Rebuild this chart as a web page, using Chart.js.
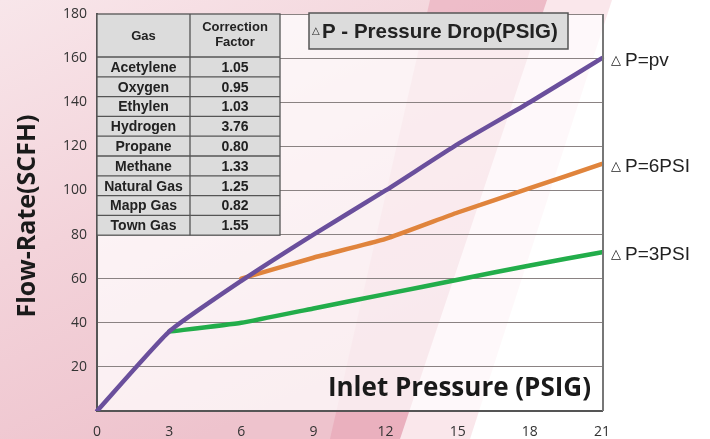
<!DOCTYPE html>
<html>
<head>
<meta charset="utf-8">
<script src="https://cdn.jsdelivr.net/npm/chart.js@4.4.0/dist/chart.umd.min.js"></script>
<style>
  html, body { margin: 0; padding: 0; background: #fff; }
  #wrap { width: 710px; height: 439px; }
</style>
</head>
<body>
<div id="wrap"><canvas id="flowChart" width="710" height="439"></canvas></div>
<script>
// Inlet pressure (PSIG) on the x axis
const pressure = ["0", "3", "6", "9", "12", "15", "18", "21"];

// Flow-rate (SCFH)
const flowPv = [0, 36, 59, 80, 100, 121, 140, 160];
const flow6psi = [null, null, 60, 69.5, 78, 90, 101, 112];
const flow3psi = [null, 36, 40, 46.5, 53, 59.5, 66, 72];

const seriesNames = ["P=pv", "P=6PSI", "P=3PSI"];

// Gas correction table
const gases = ["Acetylene", "Oxygen", "Ethylen", "Hydrogen", "Propane", "Methane", "Natural Gas", "Mapp Gas", "Town Gas"];
const factors = ["1.05", "0.95", "1.03", "3.76", "0.80", "1.33", "1.25", "0.82", "1.55"];

// Background, table, labels and titles
const decorPlugin = {
  id: "decor",
  beforeDraw(chart) {
    const ctx = chart.ctx;
    const a = chart.chartArea;
    ctx.save();
    ctx.fillStyle = "#ffffff";
    ctx.fillRect(0, 0, chart.width, chart.height);

    // pink left region
    const g = ctx.createLinearGradient(0, 0, 200, 439);
    g.addColorStop(0, "#f8e6ea");
    g.addColorStop(0.5, "#f3d3da");
    g.addColorStop(1, "#eec3cd");
    ctx.fillStyle = g;
    ctx.beginPath();
    ctx.moveTo(0, 0); ctx.lineTo(547, 0); ctx.lineTo(400, 439); ctx.lineTo(0, 439);
    ctx.closePath(); ctx.fill();

    // lighter band
    ctx.fillStyle = "rgba(240,185,198,0.35)";
    ctx.beginPath();
    ctx.moveTo(547, 0); ctx.lineTo(612, 0); ctx.lineTo(470, 439); ctx.lineTo(400, 439);
    ctx.closePath(); ctx.fill();

    // stronger band
    ctx.fillStyle = "rgba(225,140,162,0.35)";
    ctx.beginPath();
    ctx.moveTo(430, 0); ctx.lineTo(547, 0); ctx.lineTo(400, 439); ctx.lineTo(330, 439);
    ctx.closePath(); ctx.fill();

    // plot area wash
    ctx.fillStyle = "rgba(255,255,255,0.72)";
    ctx.fillRect(a.left, a.top, a.right - a.left, a.bottom - a.top);
    ctx.restore();
  },
  afterDatasetsDraw(chart) {
    const ctx = chart.ctx;
    const a = chart.chartArea;
    const yScale = chart.scales.y;
    ctx.save();

    // right border
    ctx.strokeStyle = "#777";
    ctx.lineWidth = 2;
    ctx.beginPath();
    ctx.moveTo(a.right + 1, a.top); ctx.lineTo(a.right + 1, a.bottom);
    ctx.stroke();

    // correction table
    const tx = 97, tc = 190, tr = 280, ty = 14, th = 57, rowH = 19.8;
    const tb = th + rowH * gases.length;
    ctx.fillStyle = "#dcdcdc";
    ctx.fillRect(tx, ty, tr - tx, tb - ty);
    ctx.strokeStyle = "#555";
    ctx.lineWidth = 1.3;
    ctx.strokeRect(tx, ty, tr - tx, tb - ty);
    ctx.beginPath();
    ctx.moveTo(tc, ty); ctx.lineTo(tc, tb);
    for (let i = 0; i < gases.length; i++) {
      const yy = th + rowH * i;
      ctx.moveTo(tx, yy); ctx.lineTo(tr, yy);
    }
    ctx.stroke();

    ctx.fillStyle = "#222";
    ctx.textAlign = "center";
    ctx.textBaseline = "middle";
    ctx.font = "bold 13px 'Liberation Sans', Arial, sans-serif";
    ctx.fillText("Gas", (tx + tc) / 2, (ty + th) / 2 + 1);
    ctx.fillText("Correction", (tc + tr) / 2, 27);
    ctx.fillText("Factor", (tc + tr) / 2, 42);
    ctx.font = "bold 14px 'Liberation Sans', Arial, sans-serif";
    gases.forEach((name, i) => {
      const yy = th + rowH * i + rowH / 2 + 1;
      ctx.fillText(name, (tx + tc) / 2, yy);
      ctx.fillText(factors[i], (tc + tr) / 2, yy);
    });

    // pressure drop title box
    ctx.fillStyle = "#dcdcdc";
    ctx.fillRect(309, 13, 259, 36);
    ctx.strokeStyle = "#555";
    ctx.lineWidth = 1.5;
    ctx.strokeRect(309, 13, 259, 36);
    ctx.fillStyle = "#222";
    ctx.textAlign = "left";
    ctx.textBaseline = "alphabetic";
    ctx.font = "10px 'DejaVu Sans', sans-serif";
    ctx.fillText("\u25B3", 312, 34);
    ctx.font = "bold 20.5px 'Liberation Sans', Arial, sans-serif";
    ctx.fillText("P - Pressure Drop(PSIG)", 322, 38);

    // series labels at line ends
    const ends = [flowPv, flow6psi, flow3psi];
    ends.forEach((arr, i) => {
      const yy = yScale.getPixelForValue(arr[arr.length - 1]);
      ctx.textBaseline = "alphabetic";
      ctx.font = "13px 'DejaVu Sans', sans-serif";
      ctx.fillText("\u25B3", 611, yy + 6);
      ctx.font = "19px 'Liberation Sans', Arial, sans-serif";
      ctx.fillText(seriesNames[i], 625, yy + 8);
    });

    // axis titles
    ctx.font = "bold 26px 'Open Sans', sans-serif";
    ctx.textAlign = "right";
    ctx.textBaseline = "middle";
    ctx.fillStyle = "#1a1a1a";
    ctx.fillText("Inlet Pressure (PSIG)", 591, 389);

    ctx.translate(28, 216);
    ctx.rotate(-Math.PI / 2);
    ctx.textAlign = "center";
    ctx.font = "bold 25px 'Open Sans', sans-serif";
    ctx.fillText("Flow-Rate(SCFH)", 0, 0);
    ctx.restore();
  }
};

new Chart(document.getElementById("flowChart"), {
  type: "line",
  data: {
    labels: pressure,
    datasets: [
      { label: seriesNames[0], data: flowPv, borderColor: "#6a4f9c", borderWidth: 4.5, tension: 0.15 },
      { label: seriesNames[1], data: flow6psi, borderColor: "#e0843c", borderWidth: 4.5, tension: 0.15 },
      { label: seriesNames[2], data: flow3psi, borderColor: "#22ad4a", borderWidth: 4.5, tension: 0.15 },
    ],
  },
  options: {
    responsive: false,
    animation: false,
    devicePixelRatio: 1,
    layout: { padding: { top: 14, right: 108, left: 0, bottom: 0 } },
    elements: { point: { radius: 0 }, line: { borderCapStyle: "round", fill: false } },
    plugins: { legend: { display: false }, tooltip: { enabled: false } },
    scales: {
      x: {
        offset: false,
        grid: { display: false, drawTicks: false },
        border: { color: "#555", width: 2 },
        ticks: { color: "#333", font: { family: "'Open Sans', sans-serif", size: 14 }, padding: 13, maxRotation: 0 },
        afterFit(scale) { scale.height = 28; scale.paddingLeft = 0; scale.paddingRight = 0; },
      },
      y: {
        min: 0,
        max: 180,
        grid: { color: "#8a8282", lineWidth: 1, drawTicks: false },
        border: { color: "#555", width: 2 },
        ticks: {
          stepSize: 20,
          color: "#333",
          font: { family: "'Open Sans', sans-serif", size: 14 },
          padding: 10,
          callback: function (value) { return value === 0 ? "" : value; },
        },
        afterFit(scale) { scale.width = 97; scale.paddingTop = 0; scale.paddingBottom = 0; },
      },
    },
  },
  plugins: [decorPlugin],
});
</script>
</body>
</html>
